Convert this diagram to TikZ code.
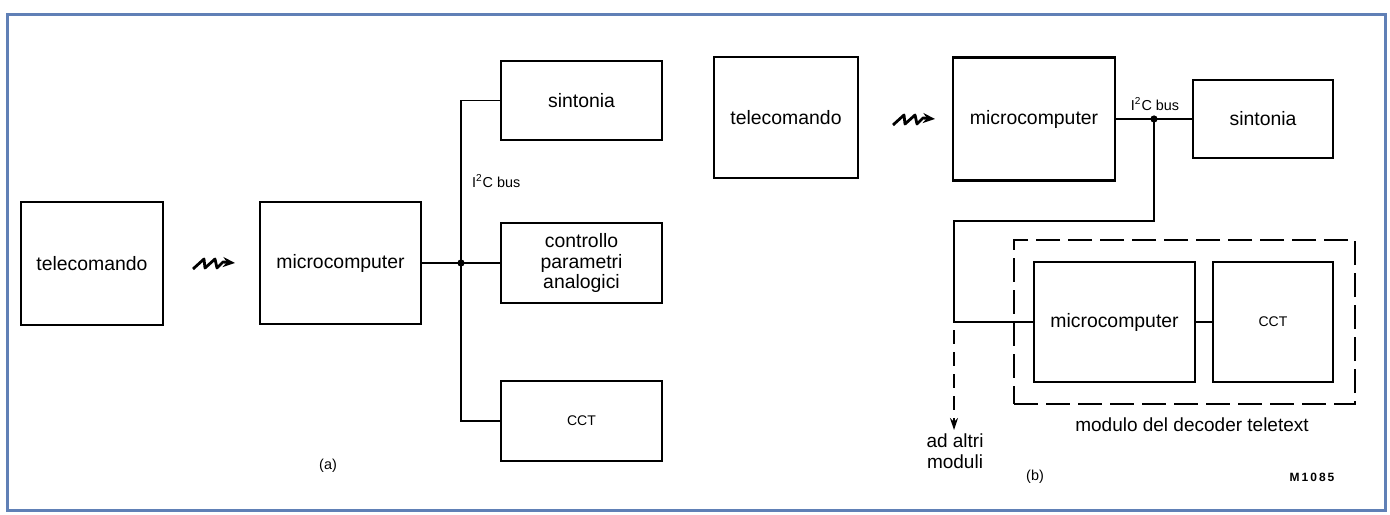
\documentclass[tikz,border=0pt]{standalone}
\usepackage{fontspec}
\setmainfont{Liberation Sans}
\usetikzlibrary{arrows.meta}

\definecolor{framecol}{RGB}{96,128,182}

\begin{document}
\begin{tikzpicture}[x=0.5pt,y=-0.5pt,
  blk/.style={draw,line width=1.4pt,inner sep=0pt,align=center,font=\fontsize{9.7}{10.4}\selectfont},
  conn/.style={line width=0.6pt},
  wave/.style={line width=1.4pt,line join=round,-{Stealth[length=6pt,width=5pt]}},
  modbox/.style={draw,line width=1pt,dash pattern=on 12pt off 4pt,inner sep=0pt,minimum width=170.5pt,minimum height=82pt},
  lbl/.style={font=\fontsize{9.5}{10.5}\selectfont,align=center},
  tiny/.style={font=\fontsize{7.2}{8}\selectfont}]
\useasboundingbox (0,0) rectangle (1390,514);
\draw[framecol,line width=1.5pt] (7,14) rectangle (1385,510);

% (a)
\node[blk,minimum width=71pt,minimum height=61.5pt] (teleA) at (92,263.5) {telecomando};
\node[blk,minimum width=80.5pt,minimum height=61pt] (microA) at (340.5,263) {microcomputer};
\node[blk,minimum width=80.5pt,minimum height=39.5pt] (sintA) at (581.5,100.5) {sintonia};
\node[blk,minimum width=80.5pt,minimum height=40pt] (ctrlA) at (581.5,263) {controllo\\parametri\\analogici};
\node[blk,minimum width=80.5pt,minimum height=40pt,font=\fontsize{7}{8}\selectfont] (cctA) at (581.5,421) {CCT};
\coordinate (busA) at (461,263);
\coordinate (waveA) at (193,269);
\draw[wave,shift={(waveA)}] (0,0) -- (11,-10) -- (12,-1) -- (22,-10) -- (24,-1) -- (30,-7) -- (42,-6);
\draw[conn] (microA.east) -- (busA);
\draw[conn] (busA) -- (ctrlA.west);
\draw[conn] (sintA.west) -| (busA) |- (cctA.west);
\fill (busA) circle[radius=1.8pt];
\node[tiny,anchor=west] (i2cA) at (465,181) {I\textsuperscript{2}C bus};
\node[tiny] (capA) at (328,466) {(a)};

% (b)
\node[blk,minimum width=72pt,minimum height=60.5pt] (teleB) at (786,117.5) {telecomando};
\node[blk,minimum width=81pt,minimum height=61.5pt] (microB) at (1034,119) {microcomputer};
\node[blk,minimum width=70pt,minimum height=39pt] (sintB) at (1263,119) {sintonia};
\node[modbox] (modB) at (1184.5,322) {};
\node[blk,minimum width=80.5pt,minimum height=60pt] (microBB) at (1114.5,322) {microcomputer};
\node[blk,minimum width=60pt,minimum height=60pt,font=\fontsize{7}{8}\selectfont] (cctB) at (1273,322) {CCT};
\coordinate (busB) at (1154,119);
\coordinate (cornerB) at (954,221);
\coordinate (dashB) at (954,330);
\coordinate (altriB) at (954,430);
\coordinate (waveB) at (893,125);
\draw[wave,shift={(waveB)}] (0,0) -- (11,-10) -- (12,-1) -- (22,-10) -- (24,-1) -- (30,-7) -- (42,-6);
\draw[conn] (microB.east) -- (sintB.west);
\draw[conn] (busB) |- (cornerB) |- (microBB.west);
\draw[conn] (microBB.east) -- (cctB.west);
\fill (busB) circle[radius=1.8pt];
\draw[line width=0.8pt,dash pattern=on 7pt off 4pt,-{Stealth[length=6pt,width=4pt]}] (dashB) -- (altriB);
\node[tiny] (i2cB) at (1155,104) {I\textsuperscript{2}C bus};
\node[lbl] (altri) at (955,451) {ad altri\\moduli};
\node[lbl] (modlbl) at (1192,425) {modulo del decoder teletext};
\node[tiny] (capB) at (1035,477) {(b)};
\node[font=\fontsize{6}{7}\selectfont\bfseries] (code) at (1312,477) {M\,1\,0\,8\,5};
\end{tikzpicture}
\end{document}
